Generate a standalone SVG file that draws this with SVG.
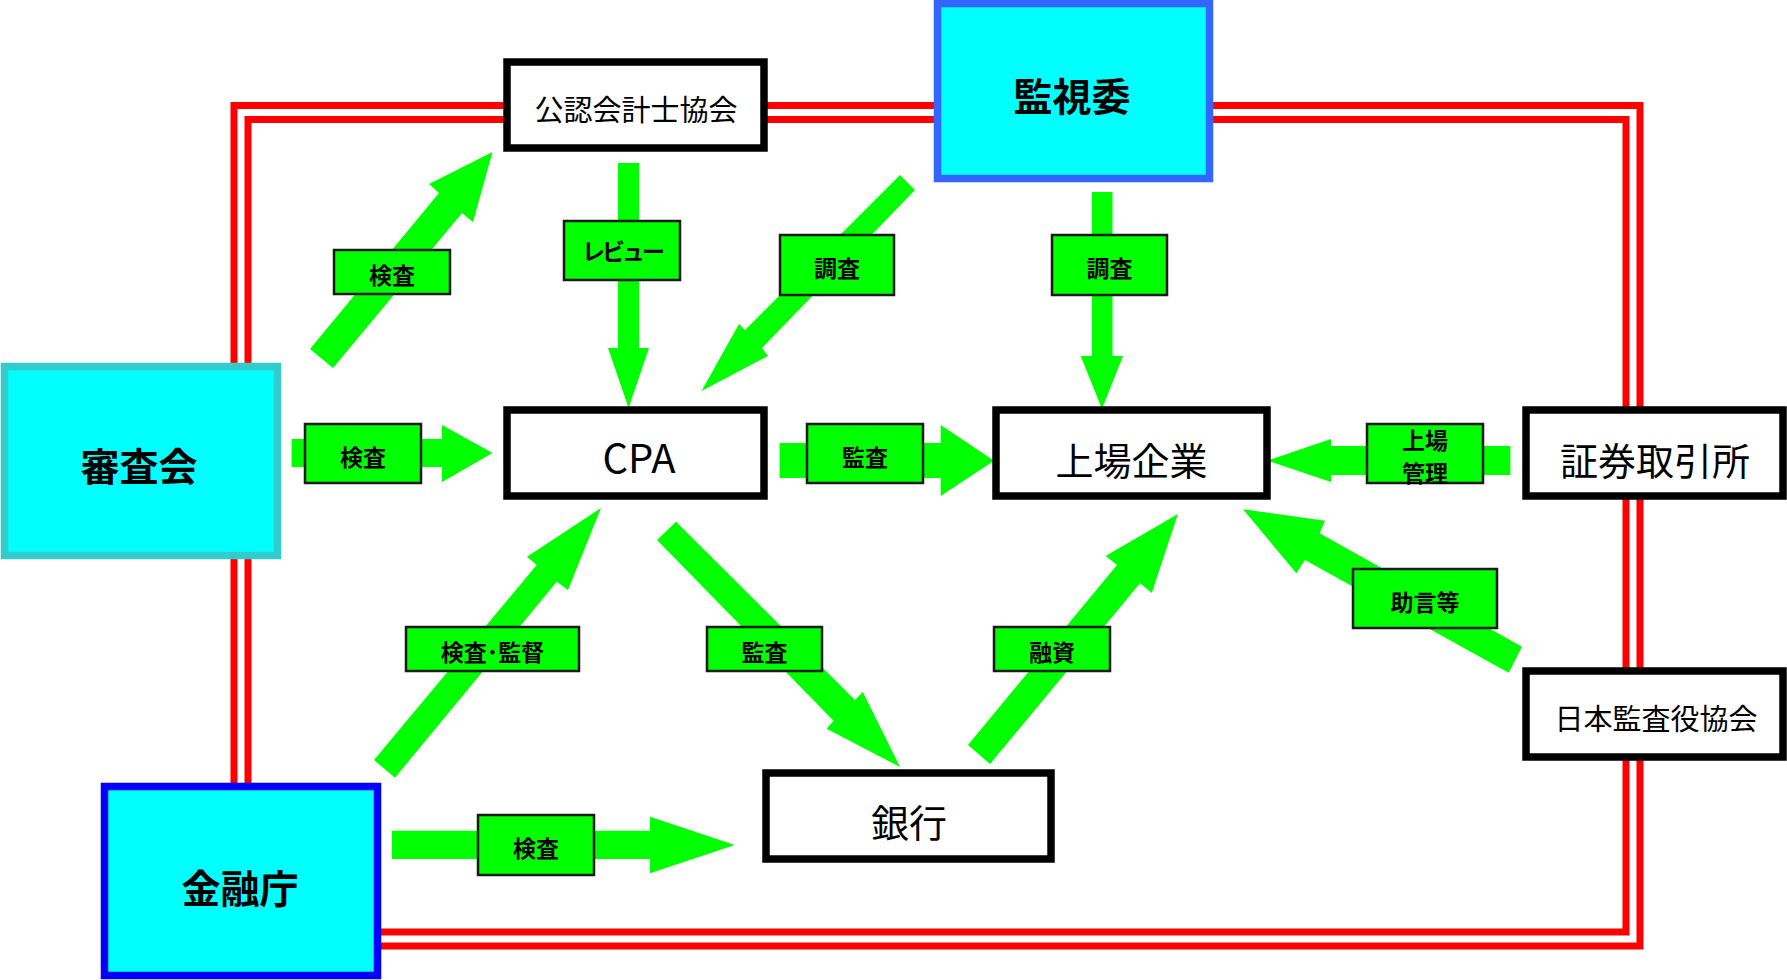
<svg xmlns="http://www.w3.org/2000/svg" width="1787" height="980" viewBox="0 0 1787 980">
<style>
.red{fill:none;stroke:#FF0000;stroke-width:7}
.arr{fill:#00FF00;stroke:none}
.lab{fill:#00FF00;stroke:#1a1a1a;stroke-width:2.5}
.lt{font-family:"Noto Sans CJK JP","Noto Sans",sans-serif;font-weight:bold;font-size:23px;fill:#000;text-anchor:middle;dominant-baseline:central}
.wbox{fill:#FFFFFF;stroke:#000;stroke-width:7.5}
.cbox{fill:#00FFFF;stroke-width:7.5}
.nt{font-family:"Noto Sans CJK JP","Noto Sans",sans-serif;fill:#000;text-anchor:middle;dominant-baseline:central}
.bt{font-family:"Noto Sans CJK JP","Noto Sans",sans-serif;font-weight:bold;font-size:39px;fill:#000;text-anchor:middle;dominant-baseline:central}
</style>
<rect width="1787" height="980" fill="#FFFFFF"/>
<g id="connectors">
  <path class="red" d="M234,366 V105.5 H1640 V946 H378"/>
  <path class="red" d="M248,366 V119.5 H1626 V932 H378"/>
  <path class="red" d="M234,555 V787"/>
  <path class="red" d="M248,555 V787"/>
  <polygon class="arr" points="310,349 439,193 429,184 492.5,152 473,222 462,213 333,368"/>
  <polygon class="arr" points="618,163 639,163 639,348 649,348 628.6,408 608,348 618,348"/>
  <polygon class="arr" points="900,175 915,190 762,348 768,356 701.5,391 739,324 745,330"/>
  <polygon class="arr" points="1092,192 1112.5,192 1112.5,356 1123,356 1102,409 1080.7,356 1092,356"/>
  <polygon class="arr" points="291.6,439 442,439 442,425 492.5,453 442,482 442,467 291.6,467"/>
  <polygon class="arr" points="779.6,443 940.7,443 940.7,425 994,460.7 940.7,496 940.7,478 779.6,478"/>
  <polygon class="arr" points="1510.4,446 1331,446 1331,439 1267.5,460.7 1331,482 1331,475 1510.4,475"/>
  <polygon class="arr" points="676,521.7 855,700 862.8,692 900,767 826.6,728.7 833.5,720.7 657,540"/>
  <polygon class="arr" points="374,760 536.7,565 527,556.7 601,508 568,590 556.8,581.7 395,777.7"/>
  <polygon class="arr" points="968,745 1117,565 1105.6,556 1177.9,514 1151.8,593 1140,583.3 990,764"/>
  <polygon class="arr" points="1522,646.7 1319.6,533.3 1325,520.7 1243,509.3 1296.4,573.3 1305,560 1508.7,672.7"/>
  <polygon class="arr" points="392,830.7 650,830.7 650,816.7 734.8,845 650,873.3 650,859 392,859"/>
  <g id="label-kensa1"><rect class="lab" x="334" y="250" width="116" height="44"/><text class="lt" x="392" y="274">検査</text></g>
  <g id="label-review"><rect class="lab" x="564" y="221" width="116" height="59"/><text class="lt" x="622" y="250" letter-spacing="-3">レビュー</text></g>
  <g id="label-chosa1"><rect class="lab" x="780" y="235" width="114" height="60"/><text class="lt" x="837" y="267">調査</text></g>
  <g id="label-chosa2"><rect class="lab" x="1052" y="235" width="115" height="60"/><text class="lt" x="1109.5" y="267">調査</text></g>
  <g id="label-kensa2"><rect class="lab" x="305" y="424" width="116" height="59"/><text class="lt" x="363" y="456">検査</text></g>
  <g id="label-kansa1"><rect class="lab" x="807" y="424" width="116" height="59"/><text class="lt" x="865" y="456">監査</text></g>
  <g id="label-jojo"><rect class="lab" x="1367" y="424" width="116" height="59"/><text class="lt" font-size="19"><tspan x="1425" y="439">上場</tspan><tspan x="1425" y="472">管理</tspan></text></g>
  <g id="label-kansa2"><rect class="lab" x="707" y="627" width="115" height="44"/><text class="lt" x="764.5" y="651">監査</text></g>
  <g id="label-kantoku"><rect class="lab" x="406" y="627" width="173" height="44"/><text class="lt" x="492.5" y="651">検査･監督</text></g>
  <g id="label-yushi"><rect class="lab" x="994" y="627" width="116" height="44"/><text class="lt" x="1052" y="651">融資</text></g>
  <g id="label-jogen"><rect class="lab" x="1353" y="569" width="144" height="59"/><text class="lt" x="1425" y="601">助言等</text></g>
  <g id="label-kensa3"><rect class="lab" x="478" y="815" width="116" height="60"/><text class="lt" x="536" y="847">検査</text></g>
</g>
<g id="node-jicpa"><rect class="wbox" x="507" y="62" width="257" height="86"/><text class="nt" x="636" y="108" font-size="29">公認会計士協会</text></g>
<g id="node-kanshiin"><rect class="cbox" x="937.5" y="3.5" width="272" height="175" stroke="#3366FF"/><text class="bt" x="1072" y="93.5">監視委</text></g>
<g id="node-shinsakai"><rect class="cbox" x="4.5" y="366.5" width="273" height="189" stroke="#33CCCC"/><text class="bt" x="139" y="463.5">審査会</text></g>
<g id="node-cpa"><rect class="wbox" x="507" y="410" width="257" height="86"/><text class="nt" x="639" y="455.5" font-size="40" font-family="Liberation Sans, Arial, sans-serif">CPA</text></g>
<g id="node-jojokigyo"><rect class="wbox" x="996" y="410" width="271" height="86"/><text class="nt" x="1131.5" y="458" font-size="38">上場企業</text></g>
<g id="node-torihikijo"><rect class="wbox" x="1526" y="410" width="257" height="86"/><text class="nt" x="1655" y="458" font-size="38">証券取引所</text></g>
<g id="node-kansayaku"><rect class="wbox" x="1526" y="671" width="257" height="86"/><text class="nt" x="1656" y="716.5" font-size="29">日本監査役協会</text></g>
<g id="node-ginko"><rect class="wbox" x="766" y="773" width="285" height="86"/><text class="nt" x="909" y="820.5" font-size="38">銀行</text></g>
<g id="node-kinyucho"><rect class="cbox" x="104.5" y="786.5" width="273" height="189" stroke="#0000FF"/><text class="bt" x="240" y="885.5">金融庁</text></g>
</svg>
